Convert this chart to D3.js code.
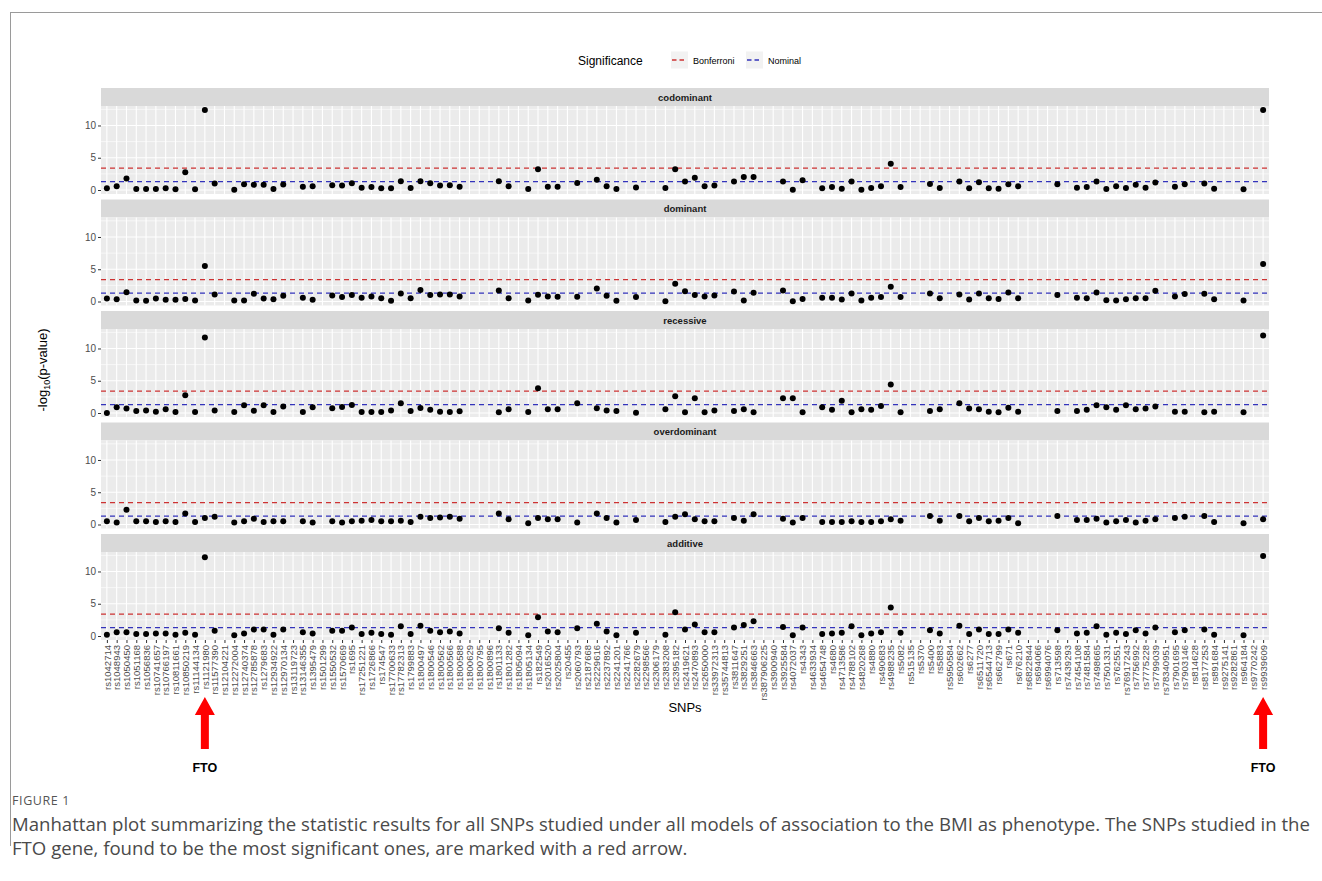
<html>
<head>
<meta charset="utf-8" />
<title>Manhattan plot</title>
<script src="https://cdn.jsdelivr.net/npm/d3@7"></script>
<style>
  body { margin: 0; background: #fff; }
  text { font-family: "Liberation Sans", Arial, sans-serif; }
  .caption { font-family: "Open Sans", "Noto Sans", sans-serif; }
</style>
</head>
<body>
<script>

var snps = ["rs1042714","rs1048943","rs1050450","rs1051168","rs1056836","rs10741657","rs10766197","rs10811661","rs10850219","rs11144134",
  "rs1121980","rs11577390","rs12104221","rs12272004","rs12740374","rs12785878","rs1279683","rs12934922","rs12970134","rs13119723",
  "rs13146355","rs1395479","rs1501299","rs1550532","rs1570669","rs1695","rs17251221","rs1726866","rs174547","rs17700633",
  "rs17782313","rs1799883","rs1800497","rs1800546","rs1800562","rs1800566","rs1800588","rs1800629","rs1800795","rs1800896",
  "rs1801133","rs1801282","rs1805094","rs1805134","rs182549","rs2016520","rs2025804","rs20455","rs2060793","rs2187668",
  "rs2229616","rs2237892","rs2241201","rs2241766","rs2282679","rs2298566","rs2306179","rs2383208","rs2395182","rs2419621",
  "rs2470893","rs2650000","rs33972313","rs35744813","rs3811647","rs3829251","rs3846663","rs387906225","rs3900940","rs3925584",
  "rs4072037","rs4343","rs4633934","rs4654748","rs4680","rs4713586","rs4788102","rs4820268","rs4880","rs490683",
  "rs4988235","rs5082","rs515135","rs5370","rs5400","rs5883","rs5950584","rs602662","rs6277","rs6511720",
  "rs6544713","rs662799","rs671","rs676210","rs6822844","rs694066","rs6994076","rs713598","rs7439293","rs7454108",
  "rs7481584","rs7498665","rs7501331","rs762551","rs76917243","rs7756992","rs7775228","rs7799039","rs78340951","rs7901695",
  "rs7903146","rs814628","rs8177253","rs891684","rs9275141","rs9282861","rs964184","rs9770242","rs9939609"];

var models = ["codominant","dominant","recessive","overdominant","additive"];

// -log10(p) per SNP, null = not tested
var codominant = [0.26,0.57,1.8,0.15,0.15,0.15,0.26,0.1,2.76,0.1,
  12.4,1.0,null,0.05,0.9,0.8,0.8,0.15,0.85,null,
  0.5,0.57,null,0.75,0.7,1.05,0.36,0.47,0.26,0.26,
  1.35,0.3,1.35,1.05,0.7,0.75,0.5,null,null,null,
  1.35,0.6,null,0.15,3.2,0.5,0.5,null,1.1,null,
  1.6,0.57,0.15,null,0.4,null,null,0.3,3.2,1.3,
  1.9,0.57,0.68,null,1.3,2.0,2.0,null,null,1.3,
  0.05,1.5,null,0.26,0.47,0.2,1.3,0.05,0.3,0.57,
  4.06,0.47,null,null,0.94,0.3,null,1.3,0.26,1.2,
  0.26,0.2,0.9,0.57,null,null,null,0.9,null,0.36,
  0.47,1.3,0.15,0.57,0.3,0.83,0.36,1.15,null,0.5,
  0.9,null,1.0,0.2,null,null,0.1,null,12.4];

var dominant = [0.47,0.36,1.45,0.15,0.1,0.47,0.26,0.26,0.4,0.15,
  5.5,1.1,null,0.15,0.15,1.2,0.47,0.36,0.9,null,
  0.6,0.26,null,0.94,0.68,1.0,0.6,0.78,0.5,0.1,
  1.25,0.5,1.8,1.0,1.1,1.1,0.78,null,null,null,
  1.7,0.5,null,0.15,1.04,0.78,0.73,null,0.73,null,
  2.0,0.9,0.1,null,0.68,null,null,0.05,2.76,1.6,
  1.0,0.78,0.94,null,1.56,0.15,1.35,null,null,1.7,
  0.05,0.4,null,0.57,0.57,0.3,1.25,0.15,0.6,0.68,
  2.3,0.68,null,null,1.25,0.5,null,1.1,0.3,1.25,
  0.5,0.4,1.4,0.5,null,null,null,1.0,null,0.6,
  0.5,1.4,0.2,0.15,0.36,0.5,0.5,1.67,null,0.78,
  1.15,null,1.2,0.36,null,null,0.15,null,5.8];

var recessive = [0.0,0.9,0.68,0.3,0.4,0.2,0.57,0.15,2.76,0.15,
  11.7,0.4,null,0.15,1.2,0.36,1.2,0.15,1.0,null,
  0.15,0.9,null,0.73,0.94,1.25,0.15,0.15,0.15,0.4,
  1.5,0.3,0.78,0.5,0.2,0.15,0.26,null,null,null,
  0.1,0.6,null,0.15,3.85,0.57,0.57,null,1.5,null,
  0.73,0.4,0.3,null,0.05,null,null,0.57,2.6,0.1,
  2.3,0.1,0.4,null,0.3,0.6,0.1,null,null,2.3,
  2.3,0.1,null,0.9,0.5,1.9,0.1,0.6,0.5,1.1,
  4.4,0.1,null,null,0.3,0.6,null,1.5,0.7,0.6,
  0.2,0.1,0.8,0.2,null,null,null,0.3,null,0.3,
  0.5,1.2,0.9,0.5,1.2,0.6,0.7,1.0,null,0.2,
  0.2,null,0.1,0.2,null,null,0.1,null,12.0];

var overdominant = [0.5,0.3,2.3,0.5,0.5,0.4,0.5,0.4,1.7,0.4,
  1.0,1.2,null,0.3,0.5,0.9,0.4,0.5,0.5,null,
  0.5,0.3,null,0.5,0.3,0.5,0.6,0.7,0.5,0.5,
  0.6,0.4,1.2,1.0,1.1,1.2,0.9,null,null,null,
  1.7,0.8,null,0.2,1.0,0.8,0.8,null,0.3,null,
  1.7,1.0,0.3,null,0.7,null,null,0.4,1.2,1.6,
  0.8,0.5,0.5,null,1.0,0.6,1.6,null,null,0.9,
  0.3,1.0,null,0.4,0.4,0.4,0.5,0.4,0.4,0.5,
  0.8,0.6,null,null,1.3,0.6,null,1.3,0.5,1.0,
  0.5,0.6,1.0,0.2,null,null,null,1.3,null,0.7,
  0.7,0.9,0.3,0.5,0.7,0.3,0.6,0.8,null,1.0,
  1.2,null,1.3,0.4,null,null,0.2,null,0.8];

var additive = [0.2,0.6,0.6,0.3,0.3,0.4,0.4,0.2,0.5,0.2,
  12.2,0.8,null,0.1,0.4,1.0,1.0,0.2,1.0,null,
  0.6,0.4,null,0.8,0.8,1.3,0.3,0.5,0.3,0.2,
  1.5,0.3,1.6,0.8,0.6,0.7,0.4,null,null,null,
  1.2,0.5,null,0.1,2.9,0.7,0.6,null,1.2,null,
  1.9,0.7,0.1,null,0.5,null,null,0.2,3.7,1.0,
  1.8,0.6,0.6,null,1.3,1.7,2.3,null,null,1.4,
  0.1,1.3,null,0.3,0.4,0.5,1.5,0.1,0.4,0.6,
  4.4,0.5,null,null,0.9,0.4,null,1.6,0.3,1.0,
  0.3,0.3,1.0,0.5,null,null,null,0.9,null,0.4,
  0.5,1.5,0.2,0.5,0.3,0.9,0.4,1.3,null,0.6,
  0.9,null,1.0,0.2,null,null,0.1,null,12.4];

var series = [codominant, dominant, recessive, overdominant, additive];

var thresholdNames = ["Bonferroni","Nominal"];
var thresholdValues = [-Math.log10(0.05/119), -Math.log10(0.05)];
var thresholdColors = ["#cd3333","#3333bb"];

var arrowSnps = ["rs1121980","rs9939609"];
var yTicks = [0,5,10];

var W = 1322, H = 881;
var left = 101, right = 1269;
var stripTop = 88, stripH = 18, panelH = 88, step = 111.5;

var svg = d3.select("body").append("svg").attr("width",W).attr("height",H);

// journal frame lines
svg.append("line").attr("x1",10).attr("x2",W).attr("y1",12.5).attr("y2",12.5).attr("stroke","#9a9a9a");
svg.append("line").attr("x1",10.5).attr("x2",10.5).attr("y1",12).attr("y2",846).attr("stroke","#9a9a9a");

var x = d3.scalePoint().domain(snps).range([left,right]).padding(0.6);

var allVals = [].concat.apply([],series).filter(v=>v!=null);
var ymax = d3.max(allVals), ymin = 0;
var pad = (ymax-ymin)*0.05;
var y = d3.scaleLinear().domain([ymin-pad,ymax+pad]).range([panelH,0]);

models.forEach(function(m,i){
  var g = svg.append("g").attr("transform",`translate(0,${stripTop+i*step})`);
  g.append("rect").attr("x",left).attr("y",0).attr("width",right-left).attr("height",stripH).attr("fill","#d9d9d9");
  g.append("text").attr("x",(left+right)/2).attr("y",stripH/2+3.5).attr("text-anchor","middle")
    .attr("font-size","9.5px").attr("font-weight","bold").attr("fill","#1a1a1a").text(m);

  var p = g.append("g").attr("transform",`translate(0,${stripH})`);
  p.append("rect").attr("x",left).attr("y",0).attr("width",right-left).attr("height",panelH).attr("fill","#ebebeb");

  // minor y grid
  [2.5,7.5,12.5].forEach(function(v){
    p.append("line").attr("x1",left).attr("x2",right).attr("y1",y(v)).attr("y2",y(v))
      .attr("stroke","#fff").attr("stroke-width",0.6);
  });
  yTicks.forEach(function(v){
    p.append("line").attr("x1",left).attr("x2",right).attr("y1",y(v)).attr("y2",y(v))
      .attr("stroke","#fff").attr("stroke-width",1.2);
  });
  p.selectAll("line.vg").data(snps).enter().append("line").attr("class","vg")
    .attr("x1",d=>x(d)).attr("x2",d=>x(d)).attr("y1",0).attr("y2",panelH)
    .attr("stroke","#fff").attr("stroke-width",1.1);

  thresholdValues.forEach(function(v,k){
    p.append("line").attr("x1",left).attr("x2",right).attr("y1",y(v)).attr("y2",y(v))
      .attr("stroke",thresholdColors[k]).attr("stroke-width",1.3).attr("stroke-dasharray","5,4");
  });

  var pts = snps.map((s,j)=>({snp:s,v:series[i][j]})).filter(d=>d.v!=null);
  p.selectAll("circle").data(pts).enter().append("circle")
    .attr("cx",d=>x(d.snp)).attr("cy",d=>y(d.v)).attr("r",3).attr("fill","#000");

  var ax = d3.axisLeft(y).tickValues(yTicks).tickSize(3).tickPadding(2);
  var axg = p.append("g").attr("transform",`translate(${left},0)`).call(ax);
  axg.select(".domain").remove();
  axg.selectAll(".tick line").attr("stroke","#333");
  axg.selectAll(".tick text").attr("fill","#4d4d4d").attr("font-size","10px").attr("font-family","Liberation Sans, Arial");

  if (i==models.length-1) {
    var bx = d3.axisBottom(x).tickSize(3).tickPadding(2);
    var bg = p.append("g").attr("transform",`translate(0,${panelH})`).call(bx);
    bg.select(".domain").remove();
    bg.selectAll(".tick line").attr("stroke","#333");
    bg.selectAll(".tick text").attr("fill","#4d4d4d").attr("font-size","9.5px").attr("font-family","Liberation Sans, Arial")
      .attr("text-anchor","end").attr("dy","0.33em").attr("transform","translate(0,3) rotate(-90)").attr("x",-2).attr("y",0);
  }
});

// axis titles
var yt = svg.append("text").attr("transform","translate(47,370) rotate(-90)").attr("text-anchor","middle")
  .attr("font-size","13px").attr("fill","#000");
yt.append("tspan").text("-log");
yt.append("tspan").attr("font-size","9px").attr("dy","3").text("10");
yt.append("tspan").attr("dy","-3").text("(p-value)");

svg.append("text").attr("x",(left+right)/2).attr("y",712).attr("text-anchor","middle")
  .attr("font-size","13px").text("SNPs");

// legend
var lg = svg.append("g").attr("transform","translate(0,60)");
lg.append("text").attr("x",578).attr("y",4.5).attr("font-size","12px").attr("fill","#000").text("Significance");
thresholdNames.forEach(function(n,k){
  var kx = [671,746][k];
  lg.append("rect").attr("x",kx).attr("y",-8.5).attr("width",17).attr("height",17).attr("fill","#f2f2f2");
  lg.append("line").attr("x1",kx+1).attr("x2",kx+16).attr("y1",0).attr("y2",0)
    .attr("stroke",thresholdColors[k]).attr("stroke-width",1.6).attr("stroke-dasharray","4.5,3");
  lg.append("text").attr("x",kx+22).attr("y",3.5).attr("font-size","9px").attr("fill","#000").text(n);
});

// FTO arrows
arrowSnps.forEach(function(s){
  var ax0 = x(s);
  var a = svg.append("g").attr("transform",`translate(${ax0},0)`);
  a.append("path").attr("d","M0,697 L10,715 L4,715 L4,749 L-4,749 L-4,715 L-10,715 Z").attr("fill","#ff0000");
  a.append("text").attr("x",0).attr("y",772).attr("text-anchor","middle").attr("font-size","12.5px")
    .attr("font-weight","bold").text("FTO");
});

// caption
svg.append("text").attr("class","caption").attr("x",12).attr("y",805).attr("font-size","12.5px")
  .attr("fill","#555").attr("letter-spacing","0.6px").text("FIGURE 1");
var capLines = ["Manhattan plot summarizing the statistic results for all SNPs studied under all models of association to the BMI as phenotype. The SNPs studied in the",
  "FTO gene, found to be the most significant ones, are marked with a red arrow."];
var cap = capLines.map(function(t,k){
  return svg.append("text").attr("class","caption").attr("x",12).attr("y",831+k*24).attr("font-size","15.6px")
    .attr("fill","#4a4a4a").text(t);
});
// scale caption font so the first line spans the same width as in the figure
var fs = 15.6*1298/cap[0].node().getComputedTextLength();
cap.forEach(c=>c.attr("font-size",fs+"px"));

</script>
</body>
</html>
